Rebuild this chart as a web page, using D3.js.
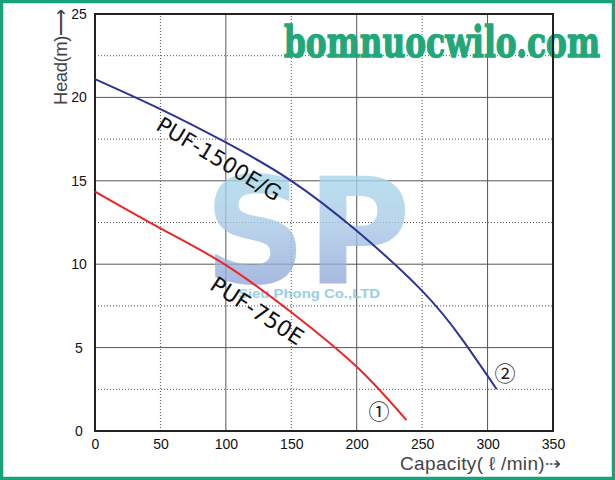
<!DOCTYPE html>
<html>
<head>
<meta charset="utf-8">
<script src="https://cdn.jsdelivr.net/npm/d3@7/dist/d3.min.js"></script>
<style>
html,body{margin:0;padding:0;background:#fff;}
svg{display:block;}
</style>
</head>
<body>
<svg id="chart" width="615" height="480"></svg>
<script>
// ---- data ----
const xTicks = [0, 50, 100, 150, 200, 250, 300, 350];
const yTicks = [0, 5, 10, 15, 20, 25];
const xGridVals = [50, 100, 150, 200, 250, 300];
const yGridVals = [2.5, 5, 7.5, 10, 12.5, 15, 17.5, 20, 22.5];
const pufBigQ = [0, 50, 100, 150, 200, 250, 281, 307];
const pufBigH = [21.1, 19.3, 17.3, 15.0, 12.0, 8.4, 5.45, 2.5];
const pufSmallQ = [0, 50, 100, 150, 200, 238];
const pufSmallH = [14.35, 12.15, 9.95, 7.12, 3.85, 0.65];
const seriesNames = ["PUF-1500E/G", "PUF-750E"];
const seriesMarks = ["②", "①"];

const svg = d3.select("#chart");
const mLeft = 95, mRight = 553, mTop = 14, mBottom = 431;
const x = d3.scaleLinear().domain([0, 350]).range([mLeft, mRight]);
const y = d3.scaleLinear().domain([0, 25]).range([mBottom, mTop]);

// outer green frame
svg.append("rect").attr("x", 1.5).attr("y", 1.5).attr("width", 612).attr("height", 477)
  .attr("fill", "#fff").attr("stroke", "#17a27b").attr("stroke-width", 3.5);

// grid
const g = svg.append("g");
xGridVals.forEach(v => {
  const dotted = v % 100 !== 0;
  g.append("line").attr("x1", x(v)).attr("x2", x(v)).attr("y1", y(0)).attr("y2", y(25))
    .attr("stroke", "#555").attr("stroke-width", 1)
    .attr("stroke-dasharray", dotted ? "1,2" : null);
});
yGridVals.forEach(v => {
  const dotted = v % 5 !== 0;
  g.append("line").attr("x1", x(0)).attr("x2", x(350)).attr("y1", y(v)).attr("y2", y(v))
    .attr("stroke", "#555").attr("stroke-width", 1)
    .attr("stroke-dasharray", dotted ? "1,2" : null);
});

// watermark text top
svg.append("text").attr("x", 284).attr("y", 57)
  .attr("font-family", "DejaVu Serif").attr("font-weight", "bold").attr("font-size", 42)
  .attr("textLength", 316).attr("lengthAdjust", "spacingAndGlyphs")
  .attr("fill", "#21a77a").attr("stroke", "#21a77a").attr("stroke-width", 1.4)
  .text("bomnuocwilo.com");

// SP logo watermark
const defs = svg.append("defs");
const grad = defs.append("linearGradient").attr("id", "spg").attr("x1", 0).attr("y1", 0).attr("x2", 0).attr("y2", 1);
grad.append("stop").attr("offset", "0%").attr("stop-color", "#a3dfeb");
grad.append("stop").attr("offset", "45%").attr("stop-color", "#a8c9e6");
grad.append("stop").attr("offset", "100%").attr("stop-color", "#8194cf");
svg.append("text").attr("x", 204).attr("y", 283)
  .attr("font-family", "DejaVu Sans").attr("font-weight", "bold").attr("font-size", 148)
  .attr("textLength", 207).attr("lengthAdjust", "spacingAndGlyphs")
  .attr("fill", "url(#spg)").attr("opacity", 0.78).text("SP");
svg.append("text").attr("x", 238).attr("y", 298)
  .attr("font-family", "Liberation Sans").attr("font-weight", "bold").attr("font-size", 13)
  .attr("textLength", 142).attr("lengthAdjust", "spacingAndGlyphs")
  .attr("fill", "#8ccbe2").attr("opacity", 0.9).text("Sieu Phong Co.,LTD");

// plot frame
svg.append("rect").attr("x", mLeft).attr("y", mTop).attr("width", mRight - mLeft).attr("height", mBottom - mTop)
  .attr("fill", "none").attr("stroke", "#222").attr("stroke-width", 2);

// curves
const line = d3.line().x(d => x(d[0])).y(d => y(d[1])).curve(d3.curveNatural);
svg.append("path").datum(pufBigQ.map((q, i) => [q, pufBigH[i]]))
  .attr("d", line).attr("fill", "none").attr("stroke", "#2c3594").attr("stroke-width", 2);
svg.append("path").datum(pufSmallQ.map((q, i) => [q, pufSmallH[i]]))
  .attr("d", line).attr("fill", "none").attr("stroke", "#ee2424").attr("stroke-width", 2);

// curve labels
svg.append("text").attr("transform", "translate(219,159) rotate(31)")
  .attr("text-anchor", "middle").attr("dominant-baseline", "central")
  .attr("font-family", "DejaVu Sans").attr("font-size", 21.5).attr("fill", "#111").text(seriesNames[0]);
svg.append("text").attr("transform", "translate(257,311) rotate(33)")
  .attr("text-anchor", "middle").attr("dominant-baseline", "central")
  .attr("font-family", "DejaVu Sans").attr("font-size", 22).attr("fill", "#111").text(seriesNames[1]);

// circled numbers
svg.append("text").attr("x", 505).attr("y", 372).attr("text-anchor", "middle").attr("dominant-baseline", "central")
  .attr("font-family", "Noto Sans CJK JP").attr("font-size", 21).attr("fill", "#222").text(seriesMarks[0]);
svg.append("text").attr("x", 379).attr("y", 410).attr("text-anchor", "middle").attr("dominant-baseline", "central")
  .attr("font-family", "Noto Sans CJK JP").attr("font-size", 21).attr("fill", "#222").text(seriesMarks[1]);

// axes tick labels
const xAxis = svg.append("g").attr("transform", `translate(0,${mBottom})`)
  .call(d3.axisBottom(x).tickValues(xTicks).tickSize(0).tickPadding(8).tickFormat(d3.format("d")));
xAxis.select(".domain").remove();
xAxis.selectAll("text").attr("font-family", "Liberation Sans Narrow, Liberation Sans").attr("font-size", 14).attr("fill", "#111");

const yAxis = svg.append("g").attr("transform", `translate(${mLeft},0)`)
  .call(d3.axisLeft(y).tickValues(yTicks).tickSize(0).tickPadding(16).tickFormat(d3.format("d")));
yAxis.select(".domain").remove();
yAxis.selectAll("text").attr("text-anchor", "middle").attr("x", -16)
  .attr("font-family", "Liberation Sans Narrow, Liberation Sans").attr("font-size", 14).attr("fill", "#111");

// axis titles
svg.append("text").attr("transform", "translate(67,105) rotate(-90)")
  .attr("font-family", "Liberation Sans Narrow, Liberation Sans").attr("font-size", 18.5).attr("fill", "#444")
  .attr("textLength", 96).attr("lengthAdjust", "spacing")
  .text("Head(m)⟶");
svg.append("text").attr("x", 400).attr("y", 470)
  .attr("font-family", "Liberation Sans Narrow, Liberation Sans").attr("font-size", 19).attr("fill", "#444")
  .attr("textLength", 161).attr("lengthAdjust", "spacing")
  .text("Capacity( ℓ /min)⇢");
</script>
</body>
</html>
